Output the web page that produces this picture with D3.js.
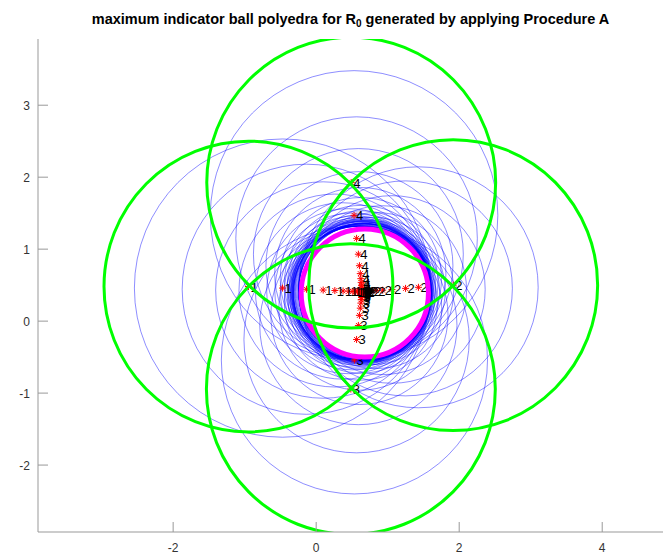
<!DOCTYPE html>
<html><head><meta charset="utf-8">
<script src="https://cdn.jsdelivr.net/npm/d3@7"></script>
<style>body{margin:0;background:#fff}svg{display:block}</style>
</head><body><div id="chart"></div>
<script>
// tick labels
const xTicks = [-2, 0, 2, 4];
const yTicks = [-2, -1, 0, 1, 2, 3];
// series of generated points (label 1: left, 2: right, 3: down, 4: up)
const s1x = [-0.947, -0.47, -0.136, 0.098, 0.261, 0.376, 0.455, 0.512, 0.551, 0.579, 0.598, 0.611, 0.621, 0.627, 0.632];
const s1y = [0.481, 0.459, 0.443, 0.432, 0.425, 0.419, 0.416, 0.413, 0.411, 0.410, 0.409, 0.408, 0.408, 0.407, 0.407];
const s2x = [1.916, 1.43, 1.25, 1.06, 0.93, 0.84, 0.78, 0.74, 0.71, 0.69, 0.675, 0.665, 0.658, 0.653, 0.65];
const s2y = [0.50, 0.47, 0.455, 0.44, 0.43, 0.425, 0.42, 0.416, 0.413, 0.411, 0.41, 0.409, 0.408, 0.408, 0.407];
const s3x = [0.485, 0.535, 0.565, 0.59, 0.605, 0.617, 0.625, 0.63, 0.634, 0.637, 0.639, 0.64, 0.641, 0.642, 0.642];
const s3y = [-0.944, -0.54, -0.255, -0.06, 0.08, 0.18, 0.25, 0.30, 0.33, 0.355, 0.37, 0.38, 0.39, 0.395, 0.399];
const s4x = [0.49, 0.53, 0.565, 0.59, 0.605, 0.617, 0.625, 0.63, 0.634, 0.637, 0.639, 0.64, 0.641, 0.642, 0.642];
const s4y = [1.925, 1.47, 1.15, 0.93, 0.77, 0.66, 0.59, 0.535, 0.497, 0.47, 0.452, 0.439, 0.43, 0.423, 0.418];
const seriesLabels = ["1", "2", "3", "4"];
const greenRadius = 2.02;
// maximum indicator ball
const magentaCenter = [0.68, 0.39];
const magentaRadius = 0.89;
const indicatorMargin = 0.92; // blue balls reach just beyond the magenta ball

const W = 665, H = 556;
const svg = d3.select("#chart").append("svg").attr("width", W).attr("height", H)
  .style("font-family", "'Liberation Sans', Arial, sans-serif");
const x = d3.scaleLinear().domain([-3.89, 4.85]).range([38, 663]);
const y = d3.scaleLinear().domain([-2.93, 3.92]).range([532, 39]);

svg.append("defs").append("clipPath").attr("id", "clip")
  .append("rect").attr("x", 38).attr("y", 39).attr("width", 625).attr("height", 493);

const series = [[s1x, s1y], [s2x, s2y], [s3x, s3y], [s4x, s4y]].map((s, i) =>
  s[0].map((v, k) => ({x: v, y: s[1][k], k, label: seriesLabels[i]})));
const allPts = series.flat();

const plot = svg.append("g").attr("clip-path", "url(#clip)");
const kx = x(1) - x(0), ky = y(0) - y(1);

// blue indicator balls: centred at each generated point, containing the magenta ball
const blueR = d => Math.hypot(d.x - magentaCenter[0], d.y - magentaCenter[1]) + indicatorMargin;
plot.append("g").selectAll("ellipse").data(allPts.filter(d => d.k > 0)).join("ellipse")
  .attr("cx", d => x(d.x)).attr("cy", d => y(d.y))
  .attr("rx", d => blueR(d) * kx).attr("ry", d => blueR(d) * ky)
  .attr("fill", "none").attr("stroke", "#0000ff").attr("stroke-width", 0.6).attr("stroke-opacity", 0.75);

// stars
const star = plot.append("g").selectAll("g").data(allPts).join("g")
  .attr("transform", d => `translate(${x(d.x)},${y(d.y)})`);
const sr = 3.5;
[[-sr,0,sr,0],[0,-sr,0,sr],[-sr*0.7,-sr*0.7,sr*0.7,sr*0.7],[-sr*0.7,sr*0.7,sr*0.7,-sr*0.7]].forEach(l => {
  star.append("line").attr("x1", l[0]).attr("y1", l[1]).attr("x2", l[2]).attr("y2", l[3])
    .attr("stroke", "#ff0000").attr("stroke-width", 1);
});
// labels
plot.append("g").selectAll("text").data(allPts).join("text")
  .attr("x", d => x(d.x) + 2).attr("y", d => y(d.y) + 5)
  .attr("font-size", 13).attr("fill", "#000").text(d => d.label);

// magenta ball
plot.append("ellipse").attr("cx", x(magentaCenter[0])).attr("cy", y(magentaCenter[1]))
  .attr("rx", magentaRadius * kx).attr("ry", magentaRadius * ky)
  .attr("fill", "none").attr("stroke", "#ff00ff").attr("stroke-width", 5);

// green balls
plot.append("g").selectAll("ellipse").data(allPts.filter(d => d.k === 0)).join("ellipse")
  .attr("cx", d => x(d.x)).attr("cy", d => y(d.y))
  .attr("rx", greenRadius * kx).attr("ry", greenRadius * ky)
  .attr("fill", "none").attr("stroke", "#00ff00").attr("stroke-width", 3);

// axes
const ax = svg.append("g");
ax.append("line").attr("x1", 38).attr("y1", 39).attr("x2", 38).attr("y2", 532).attr("stroke", "#999");
ax.append("line").attr("x1", 38).attr("y1", 532).attr("x2", 663).attr("y2", 532).attr("stroke", "#999");
ax.selectAll(".yt").data(yTicks).join("line").attr("x1", 38).attr("x2", 48)
  .attr("y1", d => y(d)).attr("y2", d => y(d)).attr("stroke", "#999");
ax.selectAll(".xt").data(xTicks).join("line").attr("y1", 532).attr("y2", 522)
  .attr("x1", d => x(d)).attr("x2", d => x(d)).attr("stroke", "#999");
ax.selectAll(".yl").data(yTicks).join("text").attr("x", 30).attr("y", d => y(d) + 4.5)
  .attr("text-anchor", "end").attr("font-size", 12).attr("fill", "#333").text(d => d);
ax.selectAll(".xl").data(xTicks).join("text").attr("x", d => x(d)).attr("y", 552)
  .attr("text-anchor", "middle").attr("font-size", 12).attr("fill", "#333").text(d => d);

// title
const t = svg.append("text").attr("x", 350.5).attr("y", 24).attr("text-anchor", "middle")
  .attr("font-size", 14.5).attr("font-weight", "bold").attr("fill", "#000");
t.append("tspan").text("maximum indicator ball polyedra for R");
t.append("tspan").attr("font-size", 10).attr("dy", 3).text("0");
t.append("tspan").attr("dy", -3).text(" generated by applying Procedure A");
</script></body></html>
